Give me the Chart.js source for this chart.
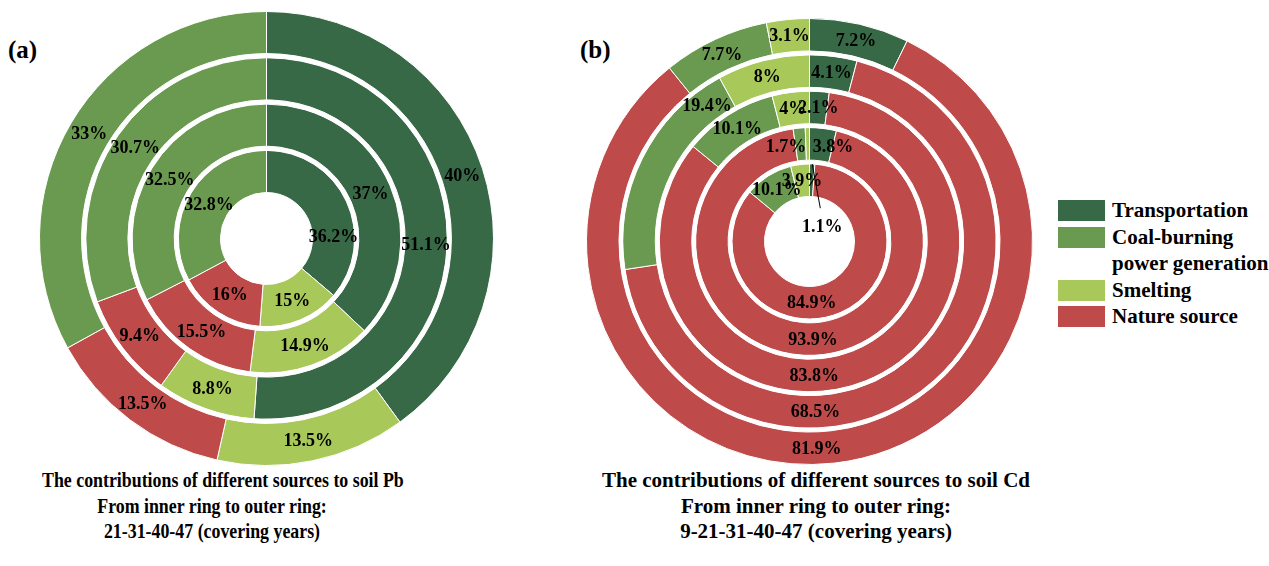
<!DOCTYPE html>
<html>
<head>
<meta charset="utf-8">
<script src="https://cdn.jsdelivr.net/npm/chart.js@4"></script>
<style>
  body { margin: 0; background: #fff; width: 1269px; height: 566px; overflow: hidden; position: relative;
         font-family: "Liberation Serif", "Times New Roman", serif; font-weight: bold; color: #000; }
  canvas { position: absolute; }
  .tag { position: absolute; font-size: 25px; line-height: 25px; }
  .title { position: absolute; top: 468px; font-size: 21px; line-height: 25.5px; text-align: center; white-space: nowrap; }
  #legend { position: absolute; left: 1058px; top: 197px; font-size: 21px; line-height: 26.5px; }
  .row { display: flex; align-items: flex-start; }
  .box { width: 47px; height: 21px; margin-top: 3px; margin-right: 7px; flex: none; }
</style>
</head>
<body>
<div class="tag" style="left:8px; top:37px;">(a)</div>
<div class="tag" style="left:580px; top:37px;">(b)</div>
<canvas id="chartPb" width="455" height="455" style="left:39px; top:11px;"></canvas>
<canvas id="chartCd" width="447" height="447" style="left:586px; top:18px;"></canvas>
<div class="title" style="left:12px; width:400px; transform: scaleX(0.85);">The contributions of different sources to soil Pb<br>From inner ring to outer ring:<br>21-31-40-47 (covering years)</div>
<div class="title" style="left:516px; width:600px;">The contributions of different sources to soil Cd<br>From inner ring to outer ring:<br>9-21-31-40-47 (covering years)</div>
<div id="legend"></div>
<script>
// slice order (clockwise from 12 o'clock) differs between the two panels
const categoriesPb = ['Transportation', 'Smelting', 'Nature source', 'Coal-burning power generation'];
const categoriesCd = ['Transportation', 'Nature source', 'Coal-burning power generation', 'Smelting'];

// Pb, inner ring -> outer ring (covering years)
const yearsPb = [21, 31, 40, 47];
const pb21 = [36.2, 15, 16, 32.8];
const pb31 = [37, 14.9, 15.5, 32.5];
const pb40 = [51.1, 8.8, 9.4, 30.7];
const pb47 = [40, 13.5, 13.5, 33];

// Cd, inner ring -> outer ring
const yearsCd = [9, 21, 31, 40, 47];
const cd9 = [1.1, 84.9, 10.1, 3.9];
const cd21 = [3.8, 93.9, 1.7, 0.6];
const cd31 = [2.1, 83.8, 10.1, 4];
const cd40 = [4.1, 68.5, 19.4, 8];
const cd47 = [7.2, 81.9, 7.7, 3.1];

const legendOrder = ['Transportation', 'Coal-burning power generation', 'Smelting', 'Nature source'];

const colors = {
    'Transportation': '#386947',
    'Coal-burning power generation': '#6a9a4f',
    'Smelting': '#a8c85a',
    'Nature source': '#be4a4a'
};

// chart.js puts dataset 0 on the outside, so rings go in reversed, with thin white spacers between
function buildRings(years, rings, cats, spacerWeight) {
    const sets = [];
    for (let k = rings.length - 1; k >= 0; k--) {
        sets.push({
            ring: years[k],
            data: rings[k],
            backgroundColor: cats.map(c => colors[c]),
            borderColor: '#fff',
            borderWidth: 1,
            weight: 1
        });
        if (k > 0) {
            sets.push({ spacer: true, data: [1], backgroundColor: '#fff', borderWidth: 0, weight: spacerWeight });
        }
    }
    return sets;
}

const ringLabels = {
    id: 'ringLabels',
    afterDatasetsDraw(chart, args, opts) {
        const ctx = chart.ctx;
        const over = opts.overrides || {};
        ctx.save();
        ctx.font = 'bold 18px "Liberation Serif"';
        ctx.fillStyle = '#000';
        ctx.strokeStyle = '#000';
        ctx.textAlign = 'center';
        ctx.textBaseline = 'middle';
        chart.data.datasets.forEach((ds, di) => {
            if (ds.spacer) return;
            chart.getDatasetMeta(di).data.forEach((arc, i) => {
                const o = over[ds.ring + ':' + i] || {};
                if (o.hide) return;
                const p = arc.getProps(['x', 'y', 'startAngle', 'endAngle', 'innerRadius', 'outerRadius'], true);
                const mid = (p.startAngle + p.endAngle) / 2;
                let ang = mid;
                let r = (p.innerRadius + p.outerRadius) / 2;
                if (o.angle !== undefined) ang = o.angle * Math.PI / 180 - Math.PI / 2;
                if (o.r !== undefined) r = o.r;
                if (o.leader) {
                    const la = o.leader.angle * Math.PI / 180 - Math.PI / 2;
                    ctx.lineWidth = 1;
                    ctx.beginPath();
                    ctx.moveTo(p.x + Math.cos(mid) * p.outerRadius, p.y + Math.sin(mid) * p.outerRadius);
                    ctx.lineTo(p.x + Math.cos(la) * o.leader.r, p.y + Math.sin(la) * o.leader.r);
                    ctx.stroke();
                }
                ctx.fillText(ds.data[i] + '%', p.x + Math.cos(ang) * r, p.y + Math.sin(ang) * r + 1);
            });
        });
        ctx.restore();
    }
};

function makeChart(id, datasets, cutout, overrides) {
    return new Chart(document.getElementById(id).getContext('2d'), {
        type: 'doughnut',
        data: { datasets: datasets },
        options: {
            responsive: false,
            maintainAspectRatio: false,
            animation: false,
            events: [],
            cutout: cutout,
            hoverOffset: 0,
            layout: { padding: 0 },
            plugins: {
                legend: { display: false },
                tooltip: { enabled: false },
                ringLabels: { overrides: overrides }
            }
        },
        plugins: [ringLabels]
    });
}

makeChart('chartPb', buildRings(yearsPb, [pb21, pb31, pb40, pb47], categoriesPb, 0.1), 46, {
    '21:0': { angle: 88 }
});

makeChart('chartCd', buildRings(yearsCd, [cd9, cd21, cd31, cd40, cd47], categoriesCd, 0.12), 45, {
    '9:0': { angle: 40, r: 20, leader: { angle: 18, r: 35 } },
    '9:1': { angle: 178 },
    '21:0': { angle: 14 },
    '21:1': { angle: 178 },
    '21:2': { angle: -14 },
    '21:3': { hide: true },
    '31:1': { angle: 178 },
    '40:1': { angle: 178 },
    '40:2': { angle: -37 },
    '47:1': { angle: 178 }
});

// legend
const legend = document.getElementById('legend');
legendOrder.forEach(name => {
    const row = document.createElement('div');
    row.className = 'row';
    const box = document.createElement('div');
    box.className = 'box';
    box.style.background = colors[name];
    const txt = document.createElement('div');
    txt.innerHTML = name.replace('Coal-burning ', 'Coal-burning<br>');
    row.appendChild(box);
    row.appendChild(txt);
    legend.appendChild(row);
});
</script>
</body>
</html>
